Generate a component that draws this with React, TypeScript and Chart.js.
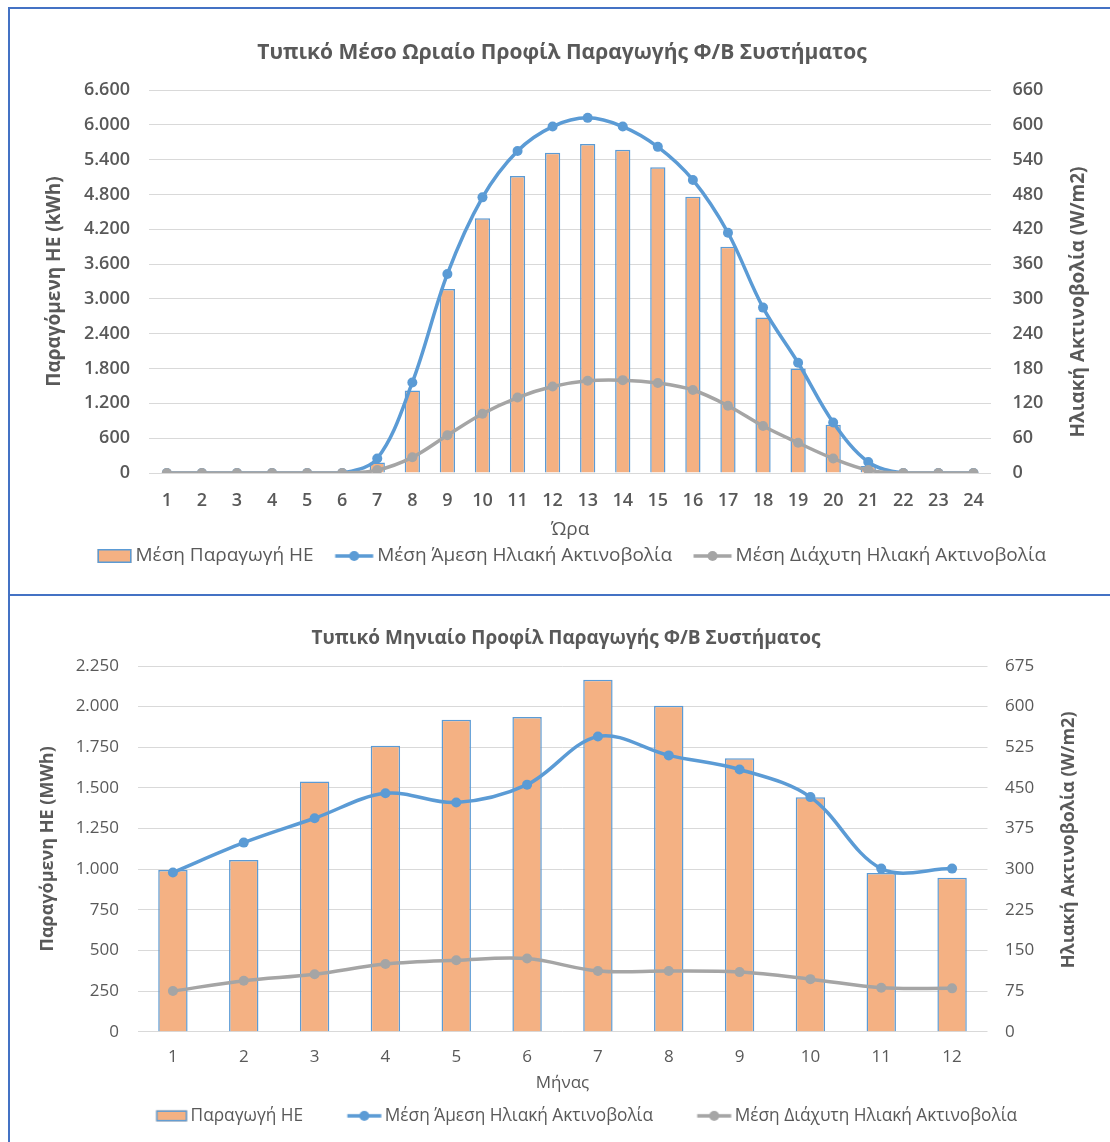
import React, { useEffect, useRef } from 'react';
import { Chart, registerables } from 'chart.js';

Chart.register(...registerables);

// ---------------- data ----------------
const hourLabels = ['1', '2', '3', '4', '5', '6', '7', '8', '9', '10', '11', '12', '13', '14', '15', '16', '17', '18', '19', '20', '21', '22', '23', '24'];
const hourlyProduction = [0, 0, 0, 0, 0, 0, 180, 1420, 3170, 4390, 5120, 5520, 5670, 5570, 5270, 4760, 3900, 2680, 1800, 830, 120, 0, 0, 0];
const hourlyDirect = [0, 0, 0, 0, 0, 0, 25, 156, 343, 475, 555, 597, 612, 597, 562, 505, 414, 285, 190, 87, 19, 0, 0, 0];
const hourlyDiffuse = [0, 0, 0, 0, 0, 0, 5, 27, 65, 102, 130, 149, 159, 160, 155, 143, 116, 81, 52, 25, 5, 0, 0, 0];

const monthLabels = ['1', '2', '3', '4', '5', '6', '7', '8', '9', '10', '11', '12'];
const monthlyProduction = [995, 1057, 1539, 1760, 1920, 1936, 2166, 2006, 1682, 1443, 977, 947];
const monthlyDirect = [294, 349, 394, 440, 423, 456, 545, 510, 484, 433, 301, 301];
const monthlyDiffuse = [75, 94, 106, 125, 132, 135, 112, 112, 110, 97, 81, 80];

const hourlyTitle = 'Τυπικό Μέσο Ωριαίο Προφίλ Παραγωγής Φ/Β Συστήματος';
const monthlyTitle = 'Τυπικό Μηνιαίο Προφίλ Παραγωγής Φ/Β Συστήματος';
const hourlySeriesNames = ['Μέση Παραγωγή ΗΕ', 'Μέση Άμεση Ηλιακή Ακτινοβολία', 'Μέση Διάχυτη Ηλιακή Ακτινοβολία'];
const monthlySeriesNames = ['Παραγωγή ΗΕ', 'Μέση Άμεση Ηλιακή Ακτινοβολία', 'Μέση Διάχυτη Ηλιακή Ακτινοβολία'];
const hourlyAxisTitles = ['Παραγόμενη ΗΕ (kWh)', 'Ηλιακή Ακτινοβολία (W/m2)', 'Ώρα'];
const monthlyAxisTitles = ['Παραγόμενη ΗΕ (MWh)', 'Ηλιακή Ακτινοβολία (W/m2)', 'Μήνας'];
const hourlyLeftTicks = [0, 6600, 600];
const hourlyRightTicks = [0, 660, 60];
const monthlyLeftTicks = [0, 2250, 250];
const monthlyRightTicks = [0, 675, 75];

// ---------------- styles ----------------
const FONT = '"Open Sans", "Noto Sans", sans-serif';
const TEXT = '#595959';
const BLUE = '#5B9BD5';
const ORANGE = '#F4B183';
const GRAY = '#A5A5A5';
const GRID = '#D9D9D9';
const FRAME = '#4472C4';

Chart.defaults.font.family = FONT;

function fmt(v: number): string {
  return String(Math.round(v)).replace(/\B(?=(\d{3})+(?!\d))/g, '.');
}

function makeIcon(kind: 'bar' | 'line', color: string, w: number, h: number, B: number, half: number, gap: number): HTMLCanvasElement {
  const visRight = B + half - gap;
  const visLeft = visRight - w;
  const c = B / 2;
  const halfW = Math.ceil(Math.max(visRight - c, c - visLeft)) + 1;
  const H = 20;
  const cv = document.createElement('canvas');
  cv.width = halfW * 2;
  cv.height = H;
  const ctx = cv.getContext('2d')!;
  const ox = visLeft - (c - halfW);
  if (kind === 'bar') {
    const y0 = (H - h) / 2;
    ctx.fillStyle = ORANGE;
    ctx.fillRect(ox, y0, w, h);
    ctx.strokeStyle = BLUE;
    ctx.lineWidth = 1.5;
    ctx.strokeRect(ox + 0.75, y0 + 0.75, w - 1.5, h - 1.5);
  } else {
    ctx.strokeStyle = color;
    ctx.lineWidth = 3.5;
    ctx.beginPath();
    ctx.moveTo(ox, H / 2);
    ctx.lineTo(ox + w, H / 2);
    ctx.stroke();
    ctx.fillStyle = color;
    ctx.beginPath();
    ctx.arc(ox + w / 2, H / 2, 5, 0, Math.PI * 2);
    ctx.fill();
  }
  return cv;
}

const rightTitlePlugin = {
  id: 'rightTitle',
  afterDraw(chart: any, _args: any, opts: any) {
    if (!opts || !opts.text) return;
    const { ctx, chartArea } = chart;
    ctx.save();
    ctx.font = `bold ${opts.size}px ${FONT}`;
    ctx.fillStyle = TEXT;
    ctx.textAlign = 'center';
    ctx.textBaseline = 'middle';
    ctx.translate(chartArea.right + opts.dx, (chartArea.top + chartArea.bottom) / 2 + opts.dy);
    ctx.rotate(-Math.PI / 2);
    ctx.fillText(opts.text, 0, 0);
    ctx.restore();
  },
};

interface Params {
  labels: string[];
  bars: number[];
  direct: number[];
  diffuse: number[];
  names: string[];
  axisTitles: string[];
  title: string;
  leftTicks: number[];
  rightTicks: number[];
  barPct: number;
  titleSize: number;
  titlePadTop: number;
  titlePadBottom: number;
  tickSize: number;
  tickWeight: string;
  axisTitleSize: number;
  leftWidth: number;
  rightWidth: number;
  leftTickPad: number;
  rightTickPad: number;
  leftTitlePad: number;
  xHeight: number;
  xTickPad: number;
  xTitleSize: number;
  xTitlePad: number;
  legendSize: number;
  legendB: number;
  legendP: number;
  legendGap: number;
  barIcon: number[];
  lineIconW: number;
  padBottom: number;
  rtDx: number;
  rtDy: number;
}

function buildConfig(p: Params): any {
  const half = p.legendSize / 2;
  const icons = [
    makeIcon('bar', ORANGE, p.barIcon[0], p.barIcon[1], p.legendB, half, p.legendGap),
    makeIcon('line', BLUE, p.lineIconW, 0, p.legendB, half, p.legendGap),
    makeIcon('line', GRAY, p.lineIconW, 0, p.legendB, half, p.legendGap),
  ];
  return {
    type: 'bar',
    data: {
      labels: p.labels,
      datasets: [
        {
          type: 'bar', label: p.names[0], data: p.bars, backgroundColor: ORANGE, borderColor: BLUE,
          borderWidth: 1.5, barPercentage: p.barPct, categoryPercentage: 1, yAxisID: 'y', order: 3,
        },
        {
          type: 'line', label: p.names[1], data: p.direct, borderColor: BLUE, backgroundColor: BLUE,
          borderWidth: 3.5, pointRadius: 5, pointBorderWidth: 0, pointBackgroundColor: BLUE,
          tension: 0.35, fill: false, yAxisID: 'y1', order: 2,
        },
        {
          type: 'line', label: p.names[2], data: p.diffuse, borderColor: GRAY, backgroundColor: GRAY,
          borderWidth: 3.5, pointRadius: 5, pointBorderWidth: 0, pointBackgroundColor: GRAY,
          tension: 0.35, fill: false, yAxisID: 'y1', order: 1,
        },
      ],
    },
    options: {
      responsive: false,
      animation: false,
      layout: { padding: { top: 0, left: 0, right: 0, bottom: p.padBottom } },
      plugins: {
        tooltip: { enabled: false },
        title: {
          display: true, text: p.title, color: TEXT,
          font: { size: p.titleSize, weight: 'bold', lineHeight: 1.2 },
          padding: { top: p.titlePadTop, bottom: p.titlePadBottom },
        },
        legend: {
          display: true, position: 'bottom', align: 'center',
          labels: {
            usePointStyle: true,
            pointStyleWidth: p.legendB,
            boxHeight: p.legendSize,
            padding: p.legendP,
            color: TEXT,
            font: { size: p.legendSize, weight: 'normal' },
            generateLabels: () => p.names.map((n, i) => ({
              text: n, pointStyle: icons[i], datasetIndex: i, hidden: false,
              fillStyle: 'rgba(0,0,0,0)', strokeStyle: 'rgba(0,0,0,0)', lineWidth: 0, fontColor: TEXT,
            })),
          },
        },
        rightTitle: { text: p.axisTitles[1], size: p.axisTitleSize, dx: p.rtDx, dy: p.rtDy },
      },
      scales: {
        x: {
          grid: { display: false, drawTicks: false },
          border: { display: false },
          ticks: { autoSkip: false, maxRotation: 0, padding: p.xTickPad, color: TEXT, font: { size: p.tickSize, weight: p.tickWeight } },
          title: {
            display: true, text: p.axisTitles[2], color: TEXT,
            font: { size: p.xTitleSize, weight: 'normal', lineHeight: 1 },
            padding: { top: 0, bottom: p.xTitlePad },
          },
          afterFit: (s: any) => { s.height = p.xHeight; },
        },
        y: {
          position: 'left', min: p.leftTicks[0], max: p.leftTicks[1],
          grid: { color: GRID, lineWidth: 1, drawTicks: false },
          border: { display: false },
          ticks: { stepSize: p.leftTicks[2], padding: p.leftTickPad, color: TEXT, font: { size: p.tickSize, weight: p.tickWeight }, callback: (v: any) => fmt(Number(v)) },
          title: {
            display: true, text: p.axisTitles[0], color: TEXT,
            font: { size: p.axisTitleSize, weight: 'bold', lineHeight: 1 },
            padding: { top: p.leftTitlePad, bottom: 0 },
          },
          afterFit: (s: any) => { s.width = p.leftWidth; },
        },
        y1: {
          position: 'right', min: p.rightTicks[0], max: p.rightTicks[1],
          grid: { display: false, drawTicks: false },
          border: { display: false },
          ticks: { stepSize: p.rightTicks[2], padding: p.rightTickPad, color: TEXT, font: { size: p.tickSize, weight: p.tickWeight }, callback: (v: any) => fmt(Number(v)) },
          afterFit: (s: any) => { s.width = p.rightWidth; },
        },
      },
    },
    plugins: [rightTitlePlugin],
  };
}

const hourlyParams: Params = {
  labels: hourLabels, bars: hourlyProduction, direct: hourlyDirect, diffuse: hourlyDiffuse,
  names: hourlySeriesNames, axisTitles: hourlyAxisTitles, title: hourlyTitle,
  leftTicks: hourlyLeftTicks, rightTicks: hourlyRightTicks, barPct: 0.435,
  titleSize: 21, titlePadTop: 31.4, titlePadBottom: 24.4,
  tickSize: 18, tickWeight: '600', axisTitleSize: 19,
  leftWidth: 142.3, rightWidth: 126, leftTickPad: 19.3, rightTickPad: 21.5, leftTitlePad: 38.5,
  xHeight: 67.5, xTickPad: 17, xTitleSize: 19, xTitlePad: 1,
  legendSize: 19, legendB: 48, legendP: 6, legendGap: 4, barIcon: [34, 14], lineIconW: 38,
  padBottom: 18.5, rtDx: 87.6, rtDy: 20.5,
};

const monthlyParams: Params = {
  labels: monthLabels, bars: monthlyProduction, direct: monthlyDirect, diffuse: monthlyDiffuse,
  names: monthlySeriesNames, axisTitles: monthlyAxisTitles, title: monthlyTitle,
  leftTicks: monthlyLeftTicks, rightTicks: monthlyRightTicks, barPct: 0.415,
  titleSize: 19, titlePadTop: 30.1, titlePadBottom: 16.1,
  tickSize: 17, tickWeight: 'normal', axisTitleSize: 18,
  leftWidth: 128.5, rightWidth: 135.5, leftTickPad: 18.5, rightTickPad: 17.5, leftTitlePad: 30,
  xHeight: 69.5, xTickPad: 15.5, xTitleSize: 17, xTitlePad: 10,
  legendSize: 17.3, legendB: 67, legendP: 6, legendGap: 3.5, barIcon: [31, 11], lineIconW: 34,
  padBottom: 7.5, rtDx: 81.5, rtDy: -9,
};

function ChartCanvas(props: { params: Params; left: number; top: number; width: number; height: number }) {
  const ref = useRef<HTMLCanvasElement | null>(null);
  useEffect(() => {
    if (!ref.current) return;
    const chart = new Chart(ref.current, buildConfig(props.params));
    return () => chart.destroy();
  }, []);
  return (
    <canvas
      ref={ref}
      width={props.width}
      height={props.height}
      style={{ position: 'absolute', left: props.left, top: props.top, width: props.width, height: props.height }}
    />
  );
}

export default function App() {
  return (
    <div style={{ position: 'absolute', left: 0, top: 0, width: 1110, height: 1142, overflow: 'hidden', background: '#ffffff' }}>
      <div style={{ position: 'absolute', left: 8, top: 7, width: 1110, height: 589, boxSizing: 'border-box', borderLeft: `2px solid ${FRAME}`, borderTop: `2px solid ${FRAME}`, borderBottom: `2px solid ${FRAME}` }} />
      <div style={{ position: 'absolute', left: 8, top: 596, width: 1110, height: 600, boxSizing: 'border-box', borderLeft: `2px solid ${FRAME}` }} />
      <ChartCanvas params={hourlyParams} left={7} top={9} width={1110} height={585} />
      <ChartCanvas params={monthlyParams} left={9} top={597} width={1114} height={545} />
    </div>
  );
}
